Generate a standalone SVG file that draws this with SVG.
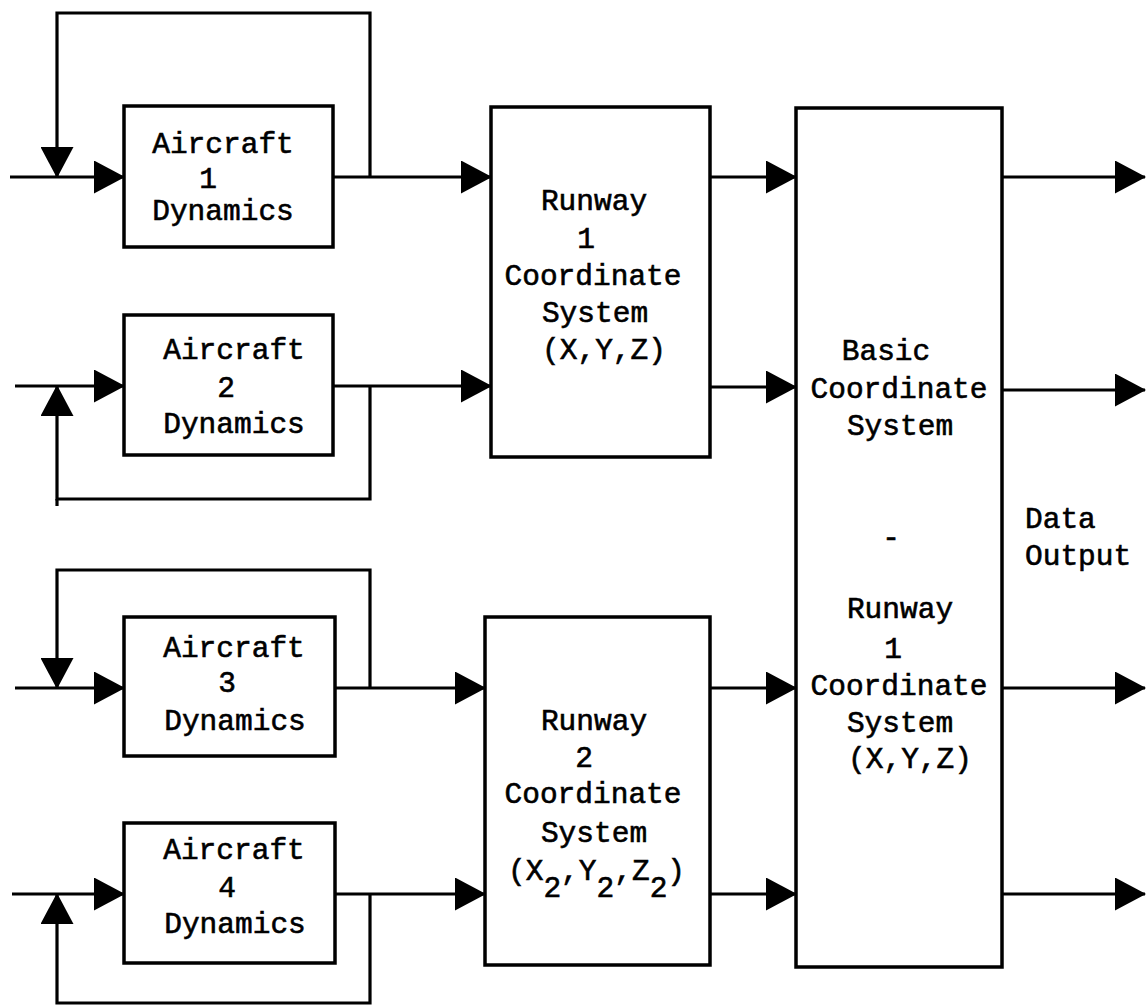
<svg xmlns="http://www.w3.org/2000/svg" width="1146" height="1008" viewBox="0 0 1146 1008">
<style>
.box{fill:#fff;stroke:#000;stroke-width:3.5}
.ln{fill:none;stroke:#000;stroke-width:3.2;stroke-linejoin:miter}
.arr{marker-end:url(#ah)}
text{font-family:"Liberation Mono","DejaVu Sans Mono",monospace;font-size:29.5px;fill:#000;stroke:#000;stroke-width:0.6;text-anchor:middle}
.st{text-anchor:start}
</style>
<defs>
<marker id="ah" viewBox="0 0 31 33" refX="30" refY="16.5" markerWidth="31" markerHeight="33" markerUnits="userSpaceOnUse" orient="auto">
<path d="M0,0 L31,16.5 L0,33 Z" fill="#000"/>
</marker>
</defs>
<rect width="1146" height="1008" fill="#fff"/>
<g id="connectors">
<path class="ln arr" d="M10,177 H124"/>
<path class="ln arr" d="M370,177 V13 H57 V177"/>
<path class="ln arr" d="M333,177 H491"/>
<path class="ln arr" d="M15,386 H124"/>
<path class="ln arr" d="M370,386 V499 H57 V386"/>
<path class="ln" d="M57,499 V506"/>
<path class="ln arr" d="M333,386 H491"/>
<path class="ln arr" d="M15,688 H124"/>
<path class="ln arr" d="M370,688 V570 H57 V688"/>
<path class="ln arr" d="M335,688 H485"/>
<path class="ln arr" d="M12,894 H124"/>
<path class="ln arr" d="M370,894 V1003 H57 V894"/>
<path class="ln arr" d="M335,894 H485"/>
<path class="ln arr" d="M710,177 H796"/>
<path class="ln arr" d="M710,387 H796"/>
<path class="ln arr" d="M710,688 H796"/>
<path class="ln arr" d="M710,894 H796"/>
<path class="ln arr" d="M1002,177 H1145"/>
<path class="ln arr" d="M1002,390 H1145"/>
<path class="ln arr" d="M1002,688 H1145"/>
<path class="ln arr" d="M1002,894 H1145"/>
</g>
<g id="aircraft1">
<rect class="box" x="124" y="106" width="209" height="141"/>
<text x="223" y="153">Aircraft</text>
<text x="208" y="188">1</text>
<text x="223" y="220">Dynamics</text>
</g>
<g id="aircraft2">
<rect class="box" x="124" y="315" width="209" height="140"/>
<text x="234" y="359">Aircraft</text>
<text x="226" y="397">2</text>
<text x="234" y="433">Dynamics</text>
</g>
<g id="aircraft3">
<rect class="box" x="124" y="617" width="211" height="139"/>
<text x="234" y="657">Aircraft</text>
<text x="227" y="692">3</text>
<text x="235" y="730">Dynamics</text>
</g>
<g id="aircraft4">
<rect class="box" x="124" y="823" width="211" height="140"/>
<text x="234" y="859">Aircraft</text>
<text x="227" y="897">4</text>
<text x="235" y="933">Dynamics</text>
</g>
<g id="runway1">
<rect class="box" x="491" y="107" width="219" height="350"/>
<text x="594" y="210">Runway</text>
<text x="586" y="248">1</text>
<text x="593" y="285">Coordinate</text>
<text x="595" y="322">System</text>
<text x="604" y="359">(X,Y,Z)</text>
</g>
<g id="runway2">
<rect class="box" x="485" y="617" width="225" height="348"/>
<text x="594" y="730">Runway</text>
<text x="584" y="767">2</text>
<text x="593" y="803">Coordinate</text>
<text x="594" y="842">System</text>
<text class="st" x="508" y="880">(X<tspan dy="17">2</tspan><tspan dy="-17">,Y</tspan><tspan dy="17">2</tspan><tspan dy="-17">,Z</tspan><tspan dy="17">2</tspan><tspan dy="-17">)</tspan></text>
</g>
<g id="basic">
<rect class="box" x="796" y="108" width="206" height="859"/>
<text x="886" y="360">Basic</text>
<text x="899" y="398">Coordinate</text>
<text x="900" y="435">System</text>
<text x="891" y="547">-</text>
<text x="900" y="618">Runway</text>
<text x="893" y="658">1</text>
<text x="899" y="695">Coordinate</text>
<text x="900" y="732">System</text>
<text x="910" y="768">(X,Y,Z)</text>
</g>
<g id="data-output">
<text class="st" x="1025" y="528">Data</text>
<text class="st" x="1025" y="565">Output</text>
</g>
</svg>
